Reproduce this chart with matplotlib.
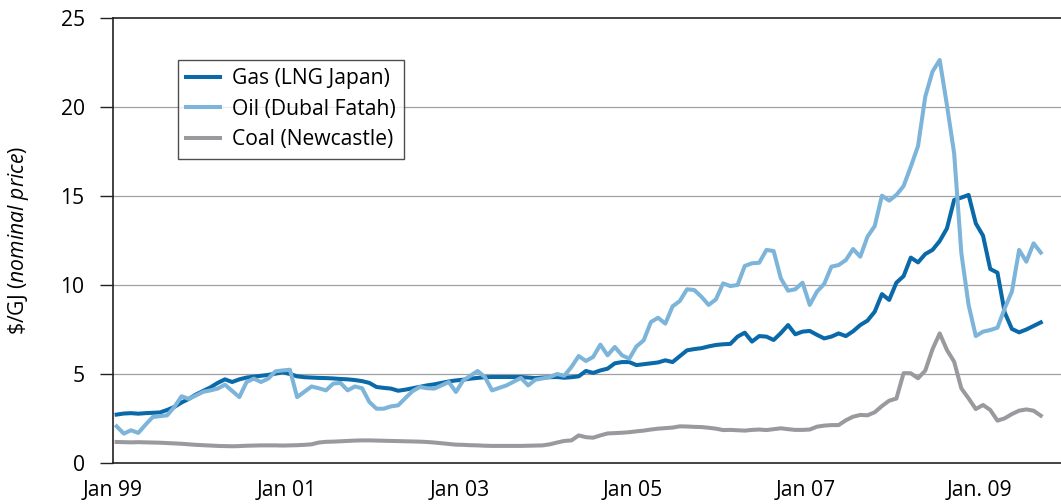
import matplotlib
matplotlib.use("Agg")
import matplotlib.pyplot as plt
import numpy as np

# Monthly prices, Jan 1999 .. Sep 2009 ($/GJ, nominal)
gas = [2.72, 2.78, 2.80, 2.77, 2.80, 2.82, 2.84, 2.98, 3.15, 3.40, 3.60, 3.85,
       4.05, 4.25, 4.50, 4.70, 4.55, 4.70, 4.80, 4.85, 4.90, 4.95, 5.02, 5.10,
       5.00, 4.87, 4.82, 4.80, 4.78, 4.77, 4.75, 4.72, 4.70, 4.66, 4.60, 4.50,
       4.27, 4.22, 4.18, 4.06, 4.12, 4.20, 4.28, 4.36, 4.42, 4.50, 4.58, 4.64,
       4.68, 4.74, 4.78, 4.82, 4.83, 4.83, 4.83, 4.83, 4.83, 4.80, 4.77, 4.80,
       4.82, 4.83, 4.79, 4.82, 4.87, 5.17, 5.06, 5.20, 5.30, 5.60, 5.67, 5.67,
       5.50, 5.55, 5.60, 5.65, 5.77, 5.67, 6.00, 6.33, 6.40, 6.45, 6.55, 6.63,
       6.67, 6.69, 7.10, 7.32, 6.82, 7.13, 7.10, 6.91, 7.30, 7.75, 7.23, 7.38,
       7.42, 7.20, 7.00, 7.10, 7.28, 7.13, 7.40, 7.75, 8.00, 8.50, 9.49, 9.16,
       10.13, 10.50, 11.54, 11.27, 11.74, 11.97, 12.47, 13.18, 14.78, 14.91, 15.06, 13.46,
       12.77, 10.90, 10.69, 8.46, 7.53, 7.34, 7.50, 7.70, 7.90]

oil = [2.06, 1.65, 1.84, 1.69, 2.15, 2.58, 2.63, 2.68, 3.15, 3.75, 3.60, 3.80,
       4.00, 4.08, 4.18, 4.40, 4.05, 3.70, 4.55, 4.74, 4.55, 4.74, 5.15, 5.20,
       5.24, 3.70, 4.00, 4.30, 4.20, 4.08, 4.46, 4.50, 4.08, 4.30, 4.20, 3.43,
       3.05, 3.05, 3.18, 3.24, 3.65, 4.04, 4.27, 4.20, 4.18, 4.36, 4.55, 3.99,
       4.64, 4.90, 5.17, 4.83, 4.08, 4.22, 4.36, 4.57, 4.78, 4.36, 4.68, 4.75,
       4.83, 5.00, 4.90, 5.40, 6.01, 5.73, 5.96, 6.65, 6.05, 6.52, 6.05, 5.86,
       6.55, 6.89, 7.92, 8.16, 7.83, 8.80, 9.10, 9.76, 9.72, 9.34, 8.88, 9.19,
       10.09, 9.94, 10.00, 11.07, 11.22, 11.25, 11.97, 11.91, 10.37, 9.68, 9.76, 10.13,
       8.88, 9.63, 10.06, 11.03, 11.12, 11.40, 12.02, 11.59, 12.72, 13.31, 15.02, 14.74,
       15.06, 15.56, 16.65, 17.81, 20.58, 21.99, 22.64, 20.11, 17.40, 11.78, 8.88, 7.13,
       7.38, 7.47, 7.60, 8.69, 9.63, 11.97, 11.31, 12.34, 11.82]

coal = [1.18, 1.17, 1.16, 1.17, 1.16, 1.15, 1.14, 1.12, 1.10, 1.08, 1.05, 1.02,
        1.00, 0.98, 0.96, 0.95, 0.94, 0.95, 0.97, 0.98, 0.99, 0.99, 0.99, 0.98,
        0.99, 1.00, 1.02, 1.05, 1.15, 1.19, 1.20, 1.22, 1.24, 1.26, 1.27, 1.27,
        1.26, 1.25, 1.24, 1.23, 1.22, 1.21, 1.20, 1.18, 1.15, 1.11, 1.07, 1.03,
        1.02, 1.00, 0.99, 0.97, 0.96, 0.96, 0.96, 0.96, 0.96, 0.97, 0.98, 0.99,
        1.05, 1.15, 1.24, 1.27, 1.55, 1.45, 1.42, 1.55, 1.66, 1.68, 1.70, 1.73,
        1.78, 1.82, 1.88, 1.93, 1.96, 1.99, 2.06, 2.05, 2.03, 2.02, 1.98, 1.93,
        1.85, 1.86, 1.84, 1.82, 1.86, 1.88, 1.85, 1.90, 1.95, 1.90, 1.86, 1.86,
        1.88, 2.04, 2.10, 2.13, 2.13, 2.40, 2.60, 2.70, 2.68, 2.85, 3.20, 3.50,
        3.62, 5.05, 5.04, 4.76, 5.19, 6.39, 7.28, 6.35, 5.69, 4.19, 3.63, 3.03,
        3.26, 2.98, 2.38, 2.51, 2.75, 2.94, 3.01, 2.94, 2.66]

tick_labels = ["Jan 99", "Jan 01", "Jan 03", "Jan 05", "Jan 07", "Jan. 09"]
tick_months = [0, 24, 48, 72, 96, 120]
y_ticks = [0, 5, 10, 15, 20, 25]

series_names = ["Gas (LNG Japan)", "Oil (Dubal Fatah)", "Coal (Newcastle)"]
colors = ["#0a69a8", "#7db4d9", "#9a9a9e"]

plt.rcParams['font.family'] = ['Open Sans', 'DejaVu Sans']
plt.rcParams['mathtext.fontset'] = 'custom'
plt.rcParams['mathtext.rm'] = 'Open Sans'
plt.rcParams['mathtext.it'] = 'Open Sans:italic'

FS = 15.2

fig = plt.figure(figsize=(10.61, 5.04), dpi=100)
ax = fig.add_axes([113/1061, 1 - 463/504, 948/1061, 445/504])

x = np.arange(len(gas))
lw = 2.9
ax.plot(x, gas, color=colors[0], lw=lw, solid_joinstyle='round', zorder=3, label=series_names[0])
ax.plot(x, oil, color=colors[1], lw=lw, solid_joinstyle='round', zorder=4, label=series_names[1])
ax.plot(x, coal, color=colors[2], lw=lw, solid_joinstyle='round', zorder=3, label=series_names[2])

ax.set_xlim(-0.5, 130.8)
ax.set_ylim(0, 25)

ax.set_yticks(y_ticks)
ax.set_yticklabels([str(v) for v in y_ticks], fontsize=FS)
ax.tick_params(axis='y', direction='out', length=9.4, width=1.0, pad=11, colors='#222222', labelcolor='black')

ax.set_xticks([m - 0.5 for m in tick_months])
ax.set_xticklabels(tick_labels, fontsize=FS)
ax.tick_params(axis='x', length=0, pad=12)

for v in [5, 10, 15, 20]:
    ax.axhline(v, color='#a0a0a0', lw=0.9, zorder=1)

for s in ['left', 'top', 'bottom']:
    ax.spines[s].set_color('#222222')
    ax.spines[s].set_linewidth(1.2)
ax.spines['right'].set_visible(False)

ax.set_ylabel("\\$/GJ $\\mathit{(nominal\\ price)}$", fontsize=FS, va='center')
ax.yaxis.set_label_coords(-0.1, 0.5)

leg = ax.legend(loc='upper left', bbox_to_anchor=(0.0686, 0.906), fontsize=FS,
                frameon=True, fancybox=False, edgecolor='#222222', handlelength=1.6,
                handletextpad=0.55, borderpad=0.4, labelspacing=0.45, borderaxespad=0)
leg.get_frame().set_linewidth(1.0)

fig.savefig("out.png", dpi=100)
